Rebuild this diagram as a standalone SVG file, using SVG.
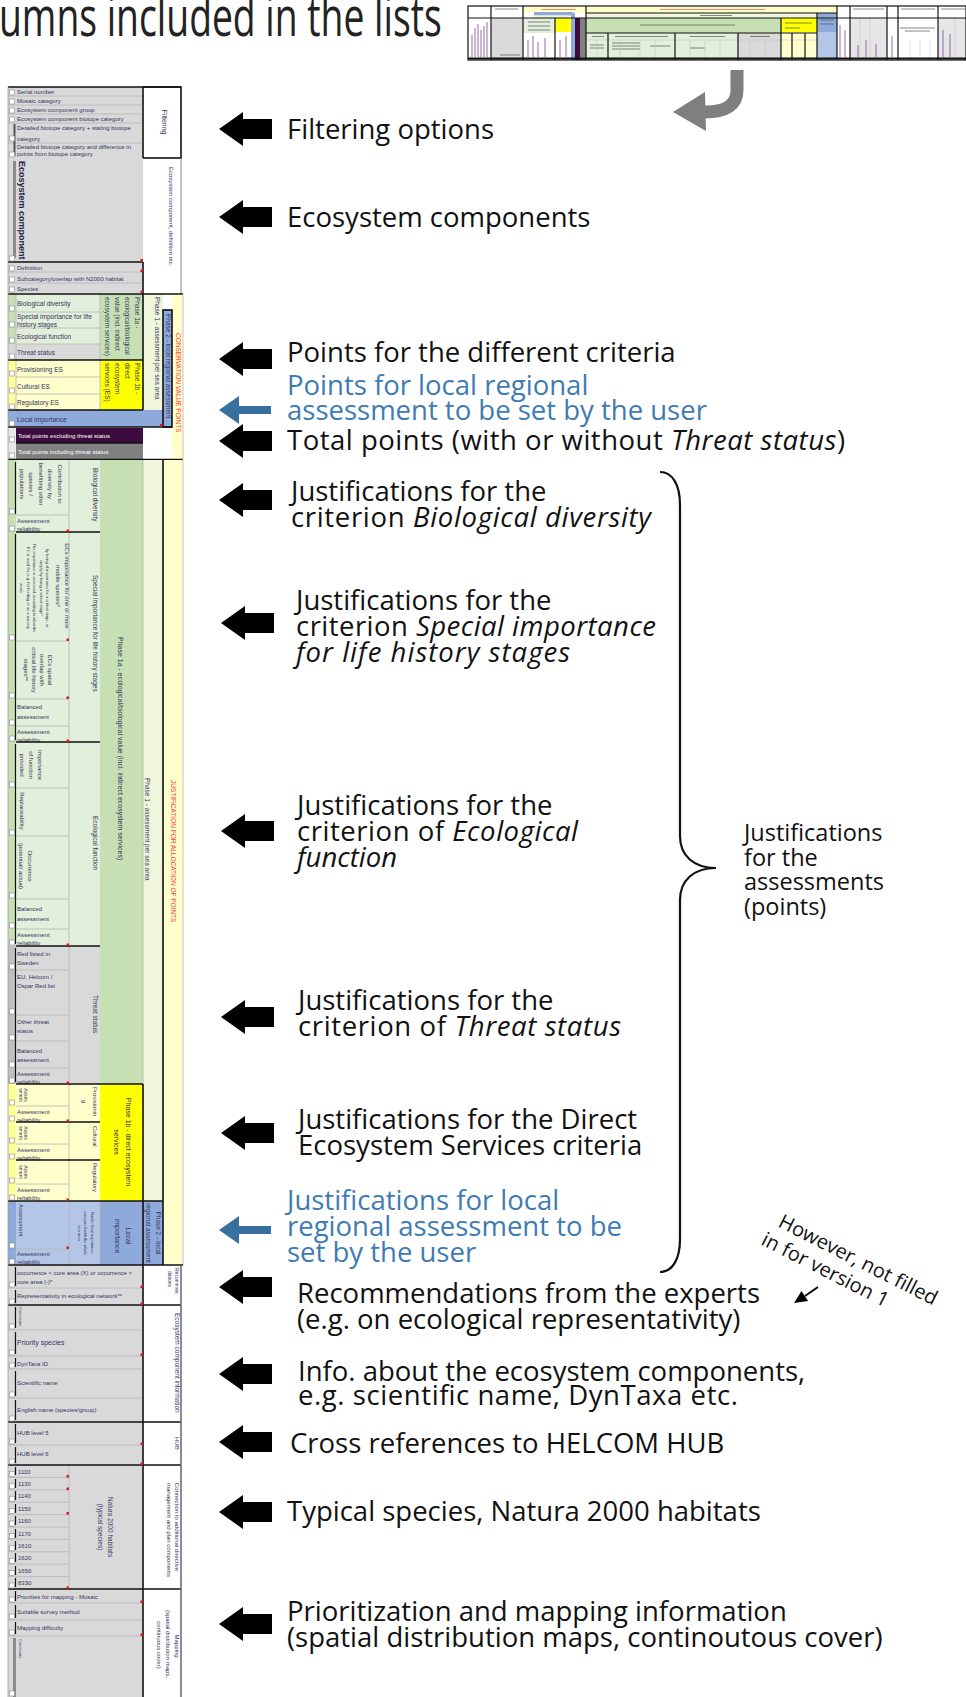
<svg xmlns="http://www.w3.org/2000/svg" xmlns:xlink="http://www.w3.org/1999/xlink" width="966" height="1697" viewBox="0 0 966 1697">
<defs>
<style>
text{font-family:"Liberation Sans",Arial,sans-serif;}
.ann{font-family:"Open Sans","Noto Sans",sans-serif;font-size:27.5px;fill:#111;}
.side{font-family:"Open Sans","Noto Sans",sans-serif;font-size:23.5px;fill:#111;}
.note{font-family:"Open Sans","Noto Sans",sans-serif;font-size:20px;fill:#111;}
.title{font-family:"Open Sans","Noto Sans",sans-serif;font-size:37.3px;fill:#222;}
.blue{fill:#3e7bb3;}
.it{font-style:italic;}
.c{font-size:6px;fill:#34345f;}
.c4{font-size:4px;fill:#34345f;}
.c5{font-size:5px;fill:#34345f;}
.c65{font-size:6.5px;fill:#34345f;}
.c7{font-size:7px;fill:#34345f;}
.wt{font-size:6px;fill:#fff;}
.rd{font-size:6.5px;fill:#ff3a3a;}
.bold{font-weight:bold;font-size:9px;fill:#22224a;}
.g{fill:#d9d9d9;} .lg{fill:#e2efda;} .mg{fill:#c6e0b4;} .p1{fill:#eff6dc;} .y{fill:#ffff00;}
.ly{fill:#ffffcc;} .b{fill:#8eaadb;} .lb{fill:#b4c6e7;} .pu{fill:#3d0b3d;} .dg{fill:#808080;} .w{fill:#fff;}
.gl{stroke:#b5b5b5;stroke-width:0.8;fill:none;}
.bk{stroke:#111;stroke-width:1.6;fill:none;}
.bt{stroke:#111;stroke-width:1.2;fill:none;}
.box{fill:#fff;stroke:#8a8a8a;stroke-width:0.6;}
.red{fill:#e01818;}
.tl{stroke:#555;stroke-width:0.7;}
</style>
<path id="blk" d="M0,0 L24,-17 L24,-10 L53,-10 L53,10 L24,10 L24,17 Z"/>
<path id="blu" d="M0,0 L20,-14 L20,-4 L52,-4 L52,4 L20,4 L20,14 Z"/>
<rect id="pb" width="5" height="5" class="box"/>
</defs>
<rect width="966" height="1697" fill="#fff"/>

<!-- heading, partly cut off at the left edge -->
<g id="title">
<text class="title" x="-1" y="25" transform="scale(1,1.45)">umns included in the lists</text>
</g>

<!-- miniature of the full sheet -->
<g id="thumbnail">
<rect x="468" y="6" width="498" height="54" fill="#fff"/>
<rect x="523" y="6" width="63" height="7" class="ly"/>
<rect x="534" y="12" width="39" height="3.5" class="b"/>
<rect x="534" y="15.5" width="34" height="2.5" class="p1"/>
<rect x="586" y="6" width="251" height="7" class="ly"/>
<rect x="586" y="13" width="231" height="5" class="p1"/>
<rect x="817" y="13" width="20" height="19" class="b"/>
<rect x="817" y="32" width="20" height="28" class="lb"/>
<rect x="586" y="18" width="195" height="15" class="mg"/>
<rect x="781" y="18" width="36" height="14" class="y"/>
<rect x="586" y="33" width="152" height="27" class="lg"/>
<rect x="738" y="33" width="43" height="27" class="g"/>
<rect x="781" y="32" width="36" height="28" class="ly"/>
<rect x="491" y="18" width="32" height="42" class="g"/>
<rect x="523" y="18" width="32" height="15" class="lg"/>
<rect x="555" y="18" width="16" height="14" class="y"/>
<rect x="571" y="13" width="4" height="47" class="b"/>
<rect x="575" y="18" width="5" height="42" class="pu"/>
<rect x="580" y="18" width="6" height="42" class="dg"/>
<rect x="850" y="18" width="37" height="42" fill="#e6e6e6"/>
<rect x="938" y="18" width="28" height="42" fill="#e6e6e6"/>
<g stroke="#ff6060" stroke-width="0.8">
<line x1="541" y1="9.5" x2="576" y2="9.5"/>
<line x1="660" y1="9.5" x2="765" y2="9.5"/>
</g>
<g class="tl">
<line x1="700" y1="15.5" x2="732" y2="15.5"/>
<line x1="640" y1="25" x2="735" y2="25"/>
<line x1="785" y1="23" x2="812" y2="23"/>
<line x1="785" y1="28" x2="800" y2="28"/>
<line x1="820" y1="20" x2="834" y2="20"/>
<line x1="820" y1="24" x2="834" y2="24"/>
<line x1="592" y1="36.5" x2="604" y2="36.5"/>
<line x1="615" y1="36.5" x2="668" y2="36.5"/>
<line x1="690" y1="36.5" x2="725" y2="36.5"/>
<line x1="750" y1="36.5" x2="770" y2="36.5"/>
<line x1="500" y1="55" x2="520" y2="55"/>
<line x1="528" y1="22" x2="550" y2="22"/>
<line x1="528" y1="26" x2="550" y2="26"/>
<line x1="528" y1="30" x2="550" y2="30"/>
<line x1="900" y1="28" x2="935" y2="28"/>
<line x1="905" y1="31" x2="930" y2="31"/>
<line x1="495" y1="9" x2="518" y2="9"/>
<line x1="853" y1="9" x2="884" y2="9"/>
<line x1="901" y1="9" x2="935" y2="9"/>
<line x1="941" y1="9" x2="965" y2="9"/>
<line x1="590" y1="45" x2="604" y2="45"/>
<line x1="590" y1="48" x2="604" y2="48"/>
<line x1="612" y1="43" x2="640" y2="43"/>
<line x1="612" y1="46" x2="640" y2="46"/>
<line x1="612" y1="49" x2="640" y2="49"/>
<line x1="650" y1="46" x2="670" y2="46"/>
<line x1="690" y1="48" x2="705" y2="48"/>
</g>
<g stroke="#8a5aa0" stroke-width="0.9">
<line x1="472" y1="35" x2="472" y2="57"/>
<line x1="475" y1="28" x2="475" y2="57"/>
<line x1="478" y1="24" x2="478" y2="57"/>
<line x1="481" y1="30" x2="481" y2="57"/>
<line x1="484" y1="26" x2="484" y2="57"/>
<line x1="487" y1="22" x2="487" y2="57"/>
<line x1="528" y1="40" x2="528" y2="57"/>
<line x1="533" y1="36" x2="533" y2="57"/>
<line x1="538" y1="42" x2="538" y2="57"/>
<line x1="545" y1="38" x2="545" y2="57"/>
<line x1="560" y1="40" x2="560" y2="57"/>
<line x1="566" y1="36" x2="566" y2="57"/>
<line x1="840" y1="25" x2="840" y2="57"/>
<line x1="845" y1="30" x2="845" y2="57"/>
<line x1="858" y1="45" x2="858" y2="57"/>
<line x1="866" y1="40" x2="866" y2="57"/>
<line x1="876" y1="44" x2="876" y2="57"/>
<line x1="892" y1="36" x2="892" y2="57"/>
<line x1="943" y1="30" x2="943" y2="57"/>
<line x1="950" y1="34" x2="950" y2="57"/>
</g>
<g stroke="#c8c8c8" stroke-width="0.6">
<line x1="597" y1="40" x2="597" y2="60"/>
<line x1="620" y1="40" x2="620" y2="60"/>
<line x1="640" y1="40" x2="640" y2="60"/>
<line x1="655" y1="40" x2="655" y2="60"/>
<line x1="690" y1="40" x2="690" y2="60"/>
<line x1="705" y1="40" x2="705" y2="60"/>
<line x1="720" y1="40" x2="720" y2="60"/>
<line x1="750" y1="40" x2="750" y2="60"/>
<line x1="765" y1="40" x2="765" y2="60"/>
<line x1="860" y1="18" x2="860" y2="60"/>
<line x1="870" y1="18" x2="870" y2="60"/>
<line x1="910" y1="40" x2="910" y2="60"/>
<line x1="920" y1="40" x2="920" y2="60"/>
<line x1="930" y1="40" x2="930" y2="60"/>
<line x1="955" y1="18" x2="955" y2="60"/>
<line x1="586" y1="40" x2="817" y2="40"/>
</g>
<g stroke="#111" stroke-width="1.2" fill="none">
<rect x="468" y="6" width="498" height="54"/>
<line x1="468" y1="18" x2="966" y2="18"/>
<line x1="586" y1="13" x2="837" y2="13"/>
<line x1="586" y1="33" x2="817" y2="33"/>
<line x1="491" y1="6" x2="491" y2="60"/>
<line x1="523" y1="6" x2="523" y2="60"/>
<line x1="555" y1="18" x2="555" y2="60"/>
<line x1="586" y1="6" x2="586" y2="60"/>
<line x1="608" y1="33" x2="608" y2="60"/>
<line x1="675" y1="33" x2="675" y2="60"/>
<line x1="738" y1="33" x2="738" y2="60"/>
<line x1="781" y1="18" x2="781" y2="60"/>
<line x1="792" y1="33" x2="792" y2="60"/>
<line x1="805" y1="33" x2="805" y2="60"/>
<line x1="817" y1="13" x2="817" y2="60"/>
<line x1="837" y1="6" x2="837" y2="60"/>
<line x1="850" y1="6" x2="850" y2="60"/>
<line x1="887" y1="6" x2="887" y2="60"/>
<line x1="898" y1="6" x2="898" y2="60"/>
<line x1="938" y1="6" x2="938" y2="60"/>
<line x1="468" y1="58.5" x2="966" y2="58.5" stroke-width="1.8"/>
</g>
</g>

<!-- ================= spreadsheet column list ================= -->
<g id="table">

<g id="sec-filtering">
<rect x="8" y="87" width="135" height="71" class="g"/>
<rect x="143" y="87" width="38" height="71" class="w"/>
<path class="gl" d="M8,96H143M8,105H143M8,114H143M8,123H143M8,143H143"/>
<rect x="13.5" y="124" width="2" height="32" fill="#555"/>
<text class="c" x="17" y="94">Serial number</text>
<text class="c" x="17" y="103">Mosaic category</text>
<text class="c" x="17" y="112">Ecosystem component group</text>
<text class="c" x="17" y="121">Ecosystem component biotope category</text>
<text class="c" x="17" y="130">Detailed biotope category + stating biotope</text>
<text class="c" x="17" y="141">category</text>
<text class="c" x="17" y="148.5">Detailed biotope category and difference in</text>
<text class="c" x="17" y="156">points from biotope category</text>
<text class="c7" transform="translate(162,122) rotate(90)" text-anchor="middle">Filtering</text>
<rect x="143" y="87" width="38" height="71" class="bk"/>
</g>

<g id="sec-ecosystem-component">
<rect x="8" y="158" width="135" height="135" class="g"/>
<rect x="13" y="161" width="3" height="97" fill="#8a8a8a"/>
<text class="bold" transform="translate(18.5,161) rotate(90)">Ecosystem component</text>
<path class="gl" d="M8,272H143M8,283H143"/>
<text class="c" x="17" y="270">Definition</text>
<text class="c" x="17" y="280.5">Subcategory/overlap with N2000 habitat</text>
<text class="c" x="17" y="291">Species</text>
<text class="c" transform="translate(169,167) rotate(90)">Ecosystem component, definition etc.</text>
<path class="bk" d="M8,262H143M143,262V294"/>
<path d="M181,158V294" stroke="#9a9a9a" stroke-width="1.2"/>
</g>

<g id="sec-points">
<rect x="8" y="294" width="92" height="50" class="lg"/>
<rect x="8" y="344" width="92" height="16" class="g"/>
<rect x="8" y="360" width="92" height="50" class="ly"/>
<rect x="8" y="294" width="8" height="50" fill="#c9e0b6"/>
<rect x="8" y="360" width="8" height="50" fill="#ffff99"/>
<rect x="100" y="294" width="43" height="66" class="mg"/>
<rect x="100" y="360" width="43" height="50" class="y"/>
<rect x="143" y="294" width="20" height="116" class="p1"/>
<rect x="172" y="294" width="11" height="166" class="ly"/>
<rect x="163" y="310" width="9" height="117" class="b"/>
<rect x="8" y="410" width="164" height="17" class="b"/>
<rect x="8" y="427" width="8" height="33" fill="#e8e8e8"/>
<rect x="16" y="428" width="127" height="15" class="pu"/>
<rect x="16" y="443" width="127" height="16" class="dg"/>
<path class="gl" d="M16,312H100M16,328H100M16,344H100M16,377H100M16,394H100M100,294V410M16,294V410"/>
<text class="c65" x="17" y="305.5">Biological diversity</text>
<text class="c65" x="17" y="319">Special importance for life</text>
<text class="c65" x="17" y="327">history stages</text>
<text class="c65" x="17" y="339">Ecological function</text>
<text class="c65" x="17" y="355">Threat status</text>
<text class="c65" x="17" y="372">Provisioning ES</text>
<text class="c65" x="17" y="389">Cultural ES</text>
<text class="c65" x="17" y="405">Regulatory ES</text>
<text class="c65" x="17" y="421.5">Local importance</text>
<text class="wt" x="18" y="438">Total points excluding threat status</text>
<text class="wt" x="18" y="454">Total points including threat status</text>
<text class="c65" transform="translate(134.5,297) rotate(90)">Phase 1a -</text>
<text class="c65" transform="translate(124.5,297) rotate(90)">ecological/biological</text>
<text class="c65" transform="translate(114.5,297) rotate(90)">value (incl. indirect</text>
<text class="c65" transform="translate(104.5,297) rotate(90)">ecosystem services)</text>
<text class="c65" transform="translate(134.5,363) rotate(90)">Phase 1b -</text>
<text class="c65" transform="translate(124.5,363) rotate(90)">direct</text>
<text class="c65" transform="translate(114.5,363) rotate(90)">ecosystem</text>
<text class="c65" transform="translate(104.5,363) rotate(90)">services (ES)</text>
<text class="c65" transform="translate(155,297) rotate(90)">Phase 1 - assessment per sea area</text>
<text class="c65" transform="translate(165.5,314) rotate(90)">Phase 2 - local regional assessment</text>
<text class="rd" transform="translate(175.5,333) rotate(90)">CONSERVATION VALUE POINTS</text>
<path class="bk" d="M8,294H183M143,294V410M8,360H143M8,410H143M8,427H172M16,443H143M8,459.5H183"/>
<rect x="163" y="310" width="9" height="117" class="bk"/>
<path class="gl" d="M183,294V460"/>
</g>

<g id="sec-biological-diversity">
<rect x="8" y="460" width="8" height="486" fill="#c6e0b4"/>
<rect x="16" y="460" width="84" height="486" class="lg"/>
<path class="gl" d="M16,515H69M69,460V532"/>
<path class="bt" d="M15.5,462V514"/>
<text class="c" transform="translate(57.8,484) rotate(90)" text-anchor="middle">Contribution to</text>
<text class="c" transform="translate(48.3,484) rotate(90)" text-anchor="middle">diversity by</text>
<text class="c" transform="translate(38.8,484) rotate(90)" text-anchor="middle">benefitting other</text>
<text class="c" transform="translate(29.3,484) rotate(90)" text-anchor="middle">species /</text>
<text class="c" transform="translate(19.8,484) rotate(90)" text-anchor="middle">populations</text>
<text class="c" x="17" y="522.5">Assessment</text>
<text class="c" x="17" y="531">reliability</text>
<text class="c65" transform="translate(92.5,468) rotate(90)">Biological diversity</text>
</g>

<g id="sec-special-importance">
<path class="gl" d="M16,641H69M16,699H69M16,726H69M69,532V742"/>
<path class="bt" d="M15.5,534V740"/>
<text class="c" transform="translate(64.5,586) rotate(90)" text-anchor="middle">ECs importance for one or more</text>
<text class="c" transform="translate(55.5,586) rotate(90)" text-anchor="middle">mobile species*</text>
<text class="c4" transform="translate(46,588) rotate(90)" text-anchor="middle">by being of importance for a critical stage, or</text>
<text class="c4" transform="translate(39.5,588) rotate(90)" text-anchor="middle">simply by being a critical stage*</text>
<text class="c4" transform="translate(33,588) rotate(90)" text-anchor="middle">The importance is assessed according to what the</text>
<text class="c4" transform="translate(26.5,588) rotate(90)" text-anchor="middle">EC is used for (e.g. for feeding or as a nursery</text>
<text class="c4" transform="translate(20,588) rotate(90)" text-anchor="middle">area)</text>
<text class="c" transform="translate(47.8,670) rotate(90)" text-anchor="middle">ECs spatial</text>
<text class="c" transform="translate(39.8,670) rotate(90)" text-anchor="middle">overlap with</text>
<text class="c" transform="translate(31.8,670) rotate(90)" text-anchor="middle">critical life history</text>
<text class="c" transform="translate(23.8,670) rotate(90)" text-anchor="middle">stages**</text>
<text class="c" x="17" y="709">Balanced</text>
<text class="c" x="17" y="719">assessment</text>
<text class="c" x="17" y="733.5">Assessment</text>
<text class="c" x="17" y="741.5">reliability</text>
<text class="c65" transform="translate(92.5,575) rotate(90)">Special importance for life history stages</text>
</g>

<g id="sec-ecological-function">
<path class="gl" d="M16,788H69M16,836H69M16,899H69M16,929H69M69,742V946"/>
<path class="bt" d="M15.5,744V944"/>
<text class="c" transform="translate(37.8,765) rotate(90)" text-anchor="middle">Importance</text>
<text class="c" transform="translate(28.8,765) rotate(90)" text-anchor="middle">of function</text>
<text class="c" transform="translate(19.8,765) rotate(90)" text-anchor="middle">provided</text>
<text class="c" transform="translate(19.8,811) rotate(90)" text-anchor="middle">Replaceability</text>
<text class="c" transform="translate(27.8,866) rotate(90)" text-anchor="middle">Occurrence</text>
<text class="c" transform="translate(18.8,866) rotate(90)" text-anchor="middle">(potential/ actual)</text>
<text class="c" x="17" y="911">Balanced</text>
<text class="c" x="17" y="921">assessment</text>
<text class="c" x="17" y="937">Assessment</text>
<text class="c" x="17" y="945">reliability</text>
<text class="c65" transform="translate(92.5,816) rotate(90)">Ecological function</text>
</g>

<g id="sec-phase-1a">
<rect x="100" y="460" width="43" height="624" class="mg"/>
<text class="c7" transform="translate(117.5,637) rotate(90)">Phase 1a - ecological/biological value (incl. indirect ecosystem services)</text>
</g>

<g id="sec-threat-status">
<rect x="8" y="946" width="8" height="138" fill="#bfbfbf"/>
<rect x="16" y="946" width="84" height="138" class="g"/>
<path class="gl" d="M16,970H69M16,1015H69M16,1041H69M16,1068H69M69,946V1084"/>
<path class="bt" d="M15.5,948V1082"/>
<text class="c" x="17" y="955.5">Red listed in</text>
<text class="c" x="17" y="964.5">Sweden</text>
<text class="c" x="17" y="979">EU, Helcom /</text>
<text class="c" x="17" y="988">Ospar Red list</text>
<text class="c" x="17" y="1024">Other threat</text>
<text class="c" x="17" y="1032.5">status</text>
<text class="c" x="17" y="1053">Balanced</text>
<text class="c" x="17" y="1062">assessment</text>
<text class="c" x="17" y="1075.5">Assessment</text>
<text class="c" x="17" y="1083.5">reliability</text>
<text class="c65" transform="translate(92.5,995) rotate(90)">Threat status</text>
</g>

<g id="sec-direct-es">
<rect x="8" y="1084" width="8" height="117" fill="#ffff99"/>
<rect x="16" y="1084" width="84" height="117" class="ly"/>
<rect x="100" y="1084" width="43" height="117" class="y"/>
<path class="gl" d="M16,1106H69M16,1144H69M16,1184H69M69,1084V1201"/>
<text class="c5" transform="translate(24,1095) rotate(90)" text-anchor="middle">Asses</text>
<text class="c5" transform="translate(18.5,1095) rotate(90)" text-anchor="middle">sment</text>
<text class="c5" transform="translate(24,1133) rotate(90)" text-anchor="middle">Asses</text>
<text class="c5" transform="translate(18.5,1133) rotate(90)" text-anchor="middle">sment</text>
<text class="c5" transform="translate(24,1172) rotate(90)" text-anchor="middle">Asses</text>
<text class="c5" transform="translate(18.5,1172) rotate(90)" text-anchor="middle">sment</text>
<text class="c" x="17" y="1113.5">Assessment</text>
<text class="c" x="17" y="1121.5">reliability</text>
<text class="c" x="17" y="1151.5">Assessment</text>
<text class="c" x="17" y="1159.5">reliability</text>
<text class="c" x="17" y="1192">Assessment</text>
<text class="c" x="17" y="1200">reliability</text>
<text class="c" transform="translate(93,1087) rotate(90)">Provisionin</text>
<text class="c" transform="translate(82,1100) rotate(90)">g</text>
<text class="c" transform="translate(93,1126) rotate(90)">Cultural</text>
<text class="c" transform="translate(93,1163) rotate(90)">Regulatory</text>
<text class="c7" transform="translate(125.5,1142) rotate(90)" text-anchor="middle">Phase 1b - direct ecosystem</text>
<text class="c7" transform="translate(113.5,1142) rotate(90)" text-anchor="middle">services</text>
</g>

<g id="sec-local-importance">
<rect x="8" y="1201" width="8" height="64" class="b"/>
<rect x="16" y="1201" width="84" height="64" class="lb"/>
<rect x="100" y="1201" width="63" height="64" class="b"/>
<path class="gl" d="M16,1249H69M69,1201V1265M100,1201V1265"/>
<text class="c" transform="translate(18.8,1204) rotate(90)">Assessment</text>
<text class="c" x="17" y="1256">Assessment</text>
<text class="c" x="17" y="1264">reliability</text>
<text class="c4" transform="translate(90.5,1233) rotate(90)" text-anchor="middle">Ranks local importance</text>
<text class="c4" transform="translate(84,1233) rotate(90)" text-anchor="middle">compared with the whole</text>
<text class="c4" transform="translate(77.5,1233) rotate(90)" text-anchor="middle">sea area</text>
<text class="c7" transform="translate(125.5,1236) rotate(90)" text-anchor="middle">Local</text>
<text class="c7" transform="translate(115,1236) rotate(90)" text-anchor="middle">importance</text>
<text class="c65" transform="translate(155.5,1233) rotate(90)" text-anchor="middle">Phase 2 - local</text>
<text class="c65" transform="translate(146,1233) rotate(90)" text-anchor="middle">regional assessment</text>
</g>

<g id="sec-phase-columns">
<rect x="143" y="460" width="20" height="741" class="p1"/>
<rect x="163" y="460" width="20" height="805" class="ly"/>
<text class="c65" transform="translate(144.5,778) rotate(90)">Phase 1 - assessment per sea area</text>
<text class="rd" transform="translate(170.5,780) rotate(90)">JUSTIFICATION FOR ALLOCATION OF POINTS</text>
<path class="gl" d="M143,460V1084M183,460V1265"/>
</g>

<g id="sec-recommendations">
<rect x="8" y="1265" width="135" height="40" class="g"/>
<path class="gl" d="M8,1288H143"/>
<path class="bt" d="M15.5,1267V1286M15.5,1290V1303"/>
<text class="c" x="17" y="1275">occurrence &lt; core area (X) or occurrence &gt;</text>
<text class="c" x="17" y="1284">core area (-)*</text>
<text class="c" x="17" y="1298">Representativity in ecological network**</text>
<text class="c5" transform="translate(174.5,1268) rotate(90)">Recommen</text>
<text class="c5" transform="translate(168,1271) rotate(90)">dations</text>
</g>

<g id="sec-component-info">
<rect x="8" y="1305" width="135" height="117" class="g"/>
<path class="gl" d="M8,1330H143M8,1356H143M8,1369H143M8,1398H143"/>
<path class="bt" d="M15.5,1307V1328M15.5,1332V1354M15.5,1358V1367M15.5,1371V1396M15.5,1400V1420"/>
<text class="c4" transform="translate(18.5,1307) rotate(90)">Comments</text>
<text class="c7" x="17" y="1345">Priority species</text>
<text class="c" x="17" y="1365.5">DynTaxa ID</text>
<text class="c" x="17" y="1385">Scientific name</text>
<text class="c" x="17" y="1412">English name (species/group)</text>
<text class="c65" transform="translate(174.5,1313) rotate(90)">Ecosystem component information</text>
</g>

<g id="sec-hub">
<rect x="8" y="1422" width="135" height="43" class="g"/>
<path class="gl" d="M8,1445H143"/>
<path class="bt" d="M15.5,1424V1443M15.5,1447V1463"/>
<text class="c" x="17" y="1435">HUB level 5</text>
<text class="c" x="17" y="1456">HUB level 6</text>
<text class="c" transform="translate(175,1437) rotate(90)">HUB</text>
</g>

<g id="sec-natura">
<rect x="8" y="1465" width="135" height="124" class="g"/>
<path class="gl" d="M8,1477.4H69M8,1489.8H69M8,1502.2H69M8,1514.6H69M8,1527H69M8,1539.4H69M8,1551.8H69M8,1564.2H69M8,1576.6H69M69,1465V1589"/>
<path class="bt" d="M15.5,1467V1475M15.5,1479V1488M15.5,1491V1500M15.5,1504V1513M15.5,1516V1525M15.5,1529V1538M15.5,1541V1550M15.5,1553V1562M15.5,1566V1575M15.5,1578V1587"/>
<text class="c" x="18" y="1473.5">1110</text>
<text class="c" x="18" y="1485.9">1130</text>
<text class="c" x="18" y="1498.3">1140</text>
<text class="c" x="18" y="1510.7">1150</text>
<text class="c" x="18" y="1523.1">1160</text>
<text class="c" x="18" y="1535.5">1170</text>
<text class="c" x="18" y="1547.9">1610</text>
<text class="c" x="18" y="1560.3">1620</text>
<text class="c" x="18" y="1572.7">1650</text>
<text class="c" x="18" y="1585.1">8330</text>
<text class="c65" transform="translate(107.5,1527) rotate(90)" text-anchor="middle">Natura 2000 habitats</text>
<text class="c65" transform="translate(97.5,1527) rotate(90)" text-anchor="middle">(typical species)</text>
<text class="c" transform="translate(174.5,1527) rotate(90)" text-anchor="middle">Connection to additional directive</text>
<text class="c" transform="translate(166.5,1530) rotate(90)" text-anchor="middle">management and plan components</text>
</g>

<g id="sec-mapping">
<rect x="8" y="1589" width="135" height="108" class="g"/>
<path class="gl" d="M8,1603H143M8,1620H143M8,1636H143"/>
<path class="bt" d="M15.5,1591V1601M15.5,1605V1618M15.5,1622V1634"/>
<rect x="13" y="1638" width="3" height="59" fill="#8a8a8a"/>
<text class="c" x="17" y="1599">Priorities for mapping - Mosaic</text>
<text class="c" x="17" y="1614">Suitable survey method</text>
<text class="c" x="17" y="1629.5">Mapping difficulty</text>
<text class="c4" transform="translate(18.5,1639) rotate(90)">Comments</text>
<text class="c" transform="translate(174.5,1646) rotate(90)" text-anchor="middle">Mapping</text>
<text class="c" transform="translate(165.5,1644) rotate(90)" text-anchor="middle">(spatial distribution maps,</text>
<text class="c" transform="translate(156.5,1645) rotate(90)" text-anchor="middle">continuous cover)</text>
</g>

<!-- group borders of the sheet -->
<path class="bk" d="M8,87H181M16,532H100M16,742H100M16,946H100M16,1084H143M16,1122H100M16,1160H100M8,1201H163M8,1265H183M143,1084V1265M163,459V1265M8,1305H181M8,1422H181M8,1465H181M8,1589H181M143,1265V1697"/>
<path d="M181,1265V1697" stroke="#666" stroke-width="1.5"/>
<path d="M8,87V1697" stroke="#9a9a9a" stroke-width="0.8"/>

<!-- comment markers -->
<g class="red">
<rect x="140.5" y="259" width="2.5" height="2.5"/>
<rect x="140.5" y="269.5" width="2.5" height="2.5"/>
<rect x="140.5" y="290.5" width="2.5" height="2.5"/>
<rect x="160" y="424" width="2.5" height="2.5"/>
<rect x="66.5" y="529.5" width="2.5" height="2.5"/>
<rect x="66.5" y="638.5" width="2.5" height="2.5"/>
<rect x="66.5" y="696.5" width="2.5" height="2.5"/>
<rect x="66.5" y="739.5" width="2.5" height="2.5"/>
<rect x="66.5" y="943.5" width="2.5" height="2.5"/>
<rect x="66.5" y="1081.5" width="2.5" height="2.5"/>
<rect x="66.5" y="1119.5" width="2.5" height="2.5"/>
<rect x="66.5" y="1198.5" width="2.5" height="2.5"/>
<rect x="66.5" y="1246.5" width="2.5" height="2.5"/>
<rect x="140.5" y="1285.5" width="2.5" height="2.5"/>
<rect x="140.5" y="1302.5" width="2.5" height="2.5"/>
<rect x="140.5" y="1353.5" width="2.5" height="2.5"/>
<rect x="140.5" y="1442.5" width="2.5" height="2.5"/>
<rect x="140.5" y="1462.5" width="2.5" height="2.5"/>
<rect x="66.5" y="1475" width="2.5" height="2.5"/>
<rect x="66.5" y="1487.5" width="2.5" height="2.5"/>
<rect x="66.5" y="1512" width="2.5" height="2.5"/>
<rect x="66.5" y="1586.5" width="2.5" height="2.5"/>
<rect x="140.5" y="1600.5" width="2.5" height="2.5"/>
<rect x="140.5" y="1633.5" width="2.5" height="2.5"/>
</g>

<!-- outline-level buttons in the left margin -->
<g id="outline-buttons">
<use xlink:href="#pb" x="9.5" y="90"/><use xlink:href="#pb" x="9.5" y="99"/><use xlink:href="#pb" x="9.5" y="108"/>
<use xlink:href="#pb" x="9.5" y="117"/><use xlink:href="#pb" x="9.5" y="136"/><use xlink:href="#pb" x="9.5" y="152"/>
<use xlink:href="#pb" x="9.5" y="256"/><use xlink:href="#pb" x="9.5" y="266"/><use xlink:href="#pb" x="9.5" y="277"/>
<use xlink:href="#pb" x="9.5" y="287"/><use xlink:href="#pb" x="9.5" y="306"/><use xlink:href="#pb" x="9.5" y="322"/>
<use xlink:href="#pb" x="9.5" y="338"/><use xlink:href="#pb" x="9.5" y="354"/><use xlink:href="#pb" x="9.5" y="371"/>
<use xlink:href="#pb" x="9.5" y="388"/><use xlink:href="#pb" x="9.5" y="404"/><use xlink:href="#pb" x="9.5" y="421"/>
<use xlink:href="#pb" x="9.5" y="437"/><use xlink:href="#pb" x="9.5" y="453"/>
<use xlink:href="#pb" x="9.5" y="509"/><use xlink:href="#pb" x="9.5" y="526"/><use xlink:href="#pb" x="9.5" y="635"/>
<use xlink:href="#pb" x="9.5" y="693"/><use xlink:href="#pb" x="9.5" y="720"/><use xlink:href="#pb" x="9.5" y="736"/>
<use xlink:href="#pb" x="9.5" y="782"/><use xlink:href="#pb" x="9.5" y="830"/><use xlink:href="#pb" x="9.5" y="893"/>
<use xlink:href="#pb" x="9.5" y="923"/><use xlink:href="#pb" x="9.5" y="940"/><use xlink:href="#pb" x="9.5" y="964"/>
<use xlink:href="#pb" x="9.5" y="1009"/><use xlink:href="#pb" x="9.5" y="1035"/><use xlink:href="#pb" x="9.5" y="1062"/>
<use xlink:href="#pb" x="9.5" y="1078"/><use xlink:href="#pb" x="9.5" y="1100"/><use xlink:href="#pb" x="9.5" y="1116"/>
<use xlink:href="#pb" x="9.5" y="1138"/><use xlink:href="#pb" x="9.5" y="1154"/><use xlink:href="#pb" x="9.5" y="1178"/>
<use xlink:href="#pb" x="9.5" y="1195"/><use xlink:href="#pb" x="9.5" y="1243"/><use xlink:href="#pb" x="9.5" y="1259"/>
<use xlink:href="#pb" x="9.5" y="1282"/><use xlink:href="#pb" x="9.5" y="1299"/><use xlink:href="#pb" x="9.5" y="1324"/>
<use xlink:href="#pb" x="9.5" y="1350"/><use xlink:href="#pb" x="9.5" y="1363"/><use xlink:href="#pb" x="9.5" y="1392"/>
<use xlink:href="#pb" x="9.5" y="1416"/><use xlink:href="#pb" x="9.5" y="1439"/><use xlink:href="#pb" x="9.5" y="1459"/>
<use xlink:href="#pb" x="9.5" y="1471.4"/><use xlink:href="#pb" x="9.5" y="1483.8"/><use xlink:href="#pb" x="9.5" y="1496.2"/>
<use xlink:href="#pb" x="9.5" y="1508.6"/><use xlink:href="#pb" x="9.5" y="1521"/><use xlink:href="#pb" x="9.5" y="1533.4"/>
<use xlink:href="#pb" x="9.5" y="1545.8"/><use xlink:href="#pb" x="9.5" y="1558.2"/><use xlink:href="#pb" x="9.5" y="1570.6"/>
<use xlink:href="#pb" x="9.5" y="1583"/><use xlink:href="#pb" x="9.5" y="1597"/><use xlink:href="#pb" x="9.5" y="1614"/>
<use xlink:href="#pb" x="9.5" y="1630"/><use xlink:href="#pb" x="9.5" y="1691"/>
</g>
</g>

<!-- ================= explanations ================= -->
<g id="lbl-filtering"><text class="ann" x="287" y="139">Filtering options</text></g>
<g id="lbl-components"><text class="ann" x="287" y="227">Ecosystem components</text></g>
<g id="lbl-points"><text class="ann" x="287" y="362">Points for the different criteria</text></g>
<g id="lbl-local-points"><text class="ann blue" x="287" y="395">Points for local regional</text><text class="ann blue" x="287" y="420">assessment to be set by the user</text></g>
<g id="lbl-total"><text class="ann" x="287" y="450" textLength="558">Total points (with or without <tspan class="it">Threat status</tspan>)</text></g>
<g id="lbl-biodiv"><text class="ann" x="291" y="501">Justifications for the</text><text class="ann" x="291" y="527" textLength="360">criterion <tspan class="it">Biological diversity</tspan></text></g>
<g id="lbl-special"><text class="ann" x="296" y="610">Justifications for the</text><text class="ann" x="296" y="636" textLength="360">criterion <tspan class="it">Special importance</tspan></text><text class="ann it" x="296" y="662" textLength="274">for life history stages</text></g>
<g id="lbl-ecofunc"><text class="ann" x="297" y="815">Justifications for the</text><text class="ann" x="297" y="841" textLength="281">criterion of <tspan class="it">Ecological</tspan></text><text class="ann it" x="297" y="867">function</text></g>
<g id="lbl-threat"><text class="ann" x="298" y="1010">Justifications for the</text><text class="ann" x="298" y="1036" textLength="323">criterion of <tspan class="it">Threat status</tspan></text></g>
<g id="lbl-direct-es"><text class="ann" x="298" y="1129">Justifications for the Direct</text><text class="ann" x="298" y="1155">Ecosystem Services criteria</text></g>
<g id="lbl-local-just"><text class="ann blue" x="287" y="1210">Justifications for local</text><text class="ann blue" x="287" y="1236">regional assessment to be</text><text class="ann blue" x="287" y="1262">set by the user</text></g>
<g id="lbl-recommend"><text class="ann" x="297" y="1303">Recommendations from the experts</text><text class="ann" x="297" y="1329">(e.g. on ecological representativity)</text></g>
<g id="lbl-info"><text class="ann" x="298" y="1381">Info. about the ecosystem components,</text><text class="ann" x="298" y="1405" textLength="440">e.g. scientific name, DynTaxa etc.</text></g>
<g id="lbl-hub"><text class="ann" x="290" y="1453">Cross references to HELCOM HUB</text></g>
<g id="lbl-natura"><text class="ann" x="287" y="1521">Typical species, Natura 2000 habitats</text></g>
<g id="lbl-mapping"><text class="ann" x="287" y="1621">Prioritization and mapping information</text><text class="ann" x="287" y="1647">(spatial distribution maps, continoutous cover)</text></g>
<g id="lbl-justifications"><text class="side" x="744" y="841">Justifications</text><text class="side" x="744" y="866">for the</text><text class="side" x="744" y="890">assessments</text><text class="side" x="744" y="915">(points)</text></g>
<g id="lbl-version-note">
<text class="note" transform="translate(777,1226) rotate(27)">However, not filled</text>
<text class="note" transform="translate(760,1244) rotate(27)">in for version 1</text>
</g>

<!-- ================= connectors ================= -->
<g id="connectors">
<path d="M737,70 V90 Q737,112 705,112" fill="none" stroke="#7f7f7f" stroke-width="13"/>
<polygon points="673,112 705,92 706,131" fill="#7f7f7f"/>
<g fill="#000">
<use xlink:href="#blk" x="219" y="129"/>
<use xlink:href="#blk" x="219" y="217"/>
<use xlink:href="#blk" x="219" y="359"/>
<use xlink:href="#blk" x="219" y="441"/>
<use xlink:href="#blk" x="219" y="500"/>
<use xlink:href="#blk" x="221" y="623"/>
<use xlink:href="#blk" x="221" y="831"/>
<use xlink:href="#blk" x="221" y="1017"/>
<use xlink:href="#blk" x="221" y="1133"/>
<use xlink:href="#blk" x="219" y="1287"/>
<use xlink:href="#blk" x="219" y="1374"/>
<use xlink:href="#blk" x="219" y="1442"/>
<use xlink:href="#blk" x="219" y="1512"/>
<use xlink:href="#blk" x="219" y="1624"/>
</g>
<g fill="#38709f">
<use xlink:href="#blu" x="219" y="410"/>
<use xlink:href="#blu" x="219" y="1230"/>
</g>
<path d="M660,472 C672,472 680,484 680,505 L680,836 C680,856 694,868 716,868 C694,868 680,880 680,900 L680,1239 C680,1260 672,1272 660,1272" fill="none" stroke="#111" stroke-width="2.2"/>
<line x1="818" y1="1287" x2="805" y2="1296" stroke="#000" stroke-width="2"/>
<polygon points="794,1303 801.5,1290.9 808.1,1300.9" fill="#000"/>
</g>
</svg>
